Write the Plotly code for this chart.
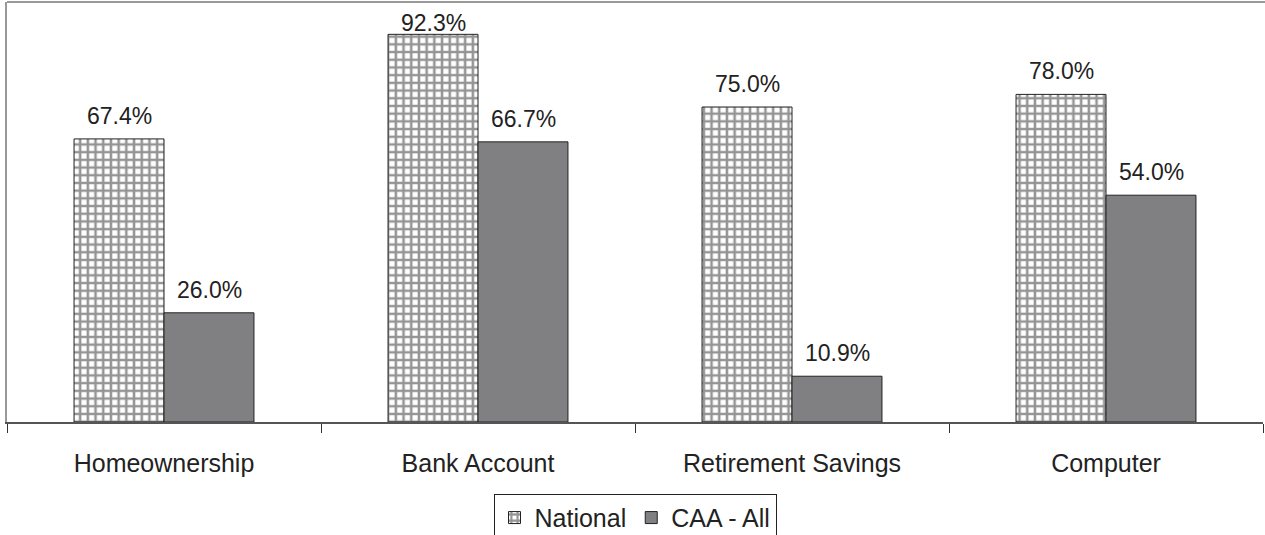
import plotly.graph_objects as go

categories = ["Homeownership", "Bank Account", "Retirement Savings", "Computer"]
national = [67.4, 92.3, 75.0, 78.0]
caa_all = [26.0, 66.7, 10.9, 54.0]
series_names = ["National", "CAA - All"]

FONT = "Liberation Sans, Arial, sans-serif"
W, H = 1265, 535
M = dict(l=7, r=2, t=2, b=113)
Y_MAX = 100
plot_h = H - M["t"] - M["b"]

fig = go.Figure()
fig.add_trace(go.Bar(
    name=series_names[0], x=categories, y=national,
    marker=dict(color="white", line=dict(color="#222222", width=1),
                pattern=dict(shape="+", fgcolor="#2a2a2a", bgcolor="white",
                             size=7.7, solidity=0.55)),
))
fig.add_trace(go.Bar(
    name=series_names[1], x=categories, y=caa_all,
    marker=dict(color="#808083", line=dict(color="#222222", width=1)),
))

# value labels above the bars, kept inside the plot area (as in the original)
annotations = []
for series, shift in ((national, -45), (caa_all, 45)):
    for cat, v in zip(categories, series):
        room = (Y_MAX - v) / Y_MAX * plot_h  # pixels between bar top and plot top
        yshift = min(8, room - 36)
        annotations.append(dict(x=cat, y=v, xref="x", yref="y", text=f"{v:.1f}%",
                                showarrow=False, xshift=shift, yshift=yshift,
                                yanchor="bottom",
                                font=dict(size=23, color="#222222", family=FONT)))

fig.update_layout(
    width=W, height=H,
    margin=dict(**M, autoexpand=False),
    plot_bgcolor="white", paper_bgcolor="white",
    barmode="group", bargap=0.427, bargroupgap=0,
    font=dict(family=FONT, size=25, color="#222222"),
    showlegend=True,
    legend=dict(orientation="h", x=0.5, xanchor="center", y=-0.171, yanchor="top",
                bordercolor="#222222", borderwidth=1, bgcolor="white",
                font=dict(size=25, family=FONT, color="#222222"),
                itemwidth=30, tracegroupgap=0),
    xaxis=dict(showline=True, linecolor="#555555", linewidth=2,
               ticks="outside", tickson="boundaries", ticklen=9, tickcolor="#333333",
               tickwidth=1, showgrid=False, ticklabelstandoff=18,
               tickfont=dict(size=25, family=FONT, color="#222222")),
    yaxis=dict(range=[0, Y_MAX], showline=True, linecolor="#999999", linewidth=2,
               showticklabels=False, ticks="", showgrid=False, zeroline=False),
    shapes=[dict(type="line", xref="paper", yref="paper", x0=0, x1=1.01, y0=1, y1=1,
                 line=dict(color="#999999", width=2))],
    annotations=annotations,
)

fig.write_html("out.html", config={"displayModeBar": False},
               post_script="document.body.style.margin='0';document.body.style.overflow='hidden';")
